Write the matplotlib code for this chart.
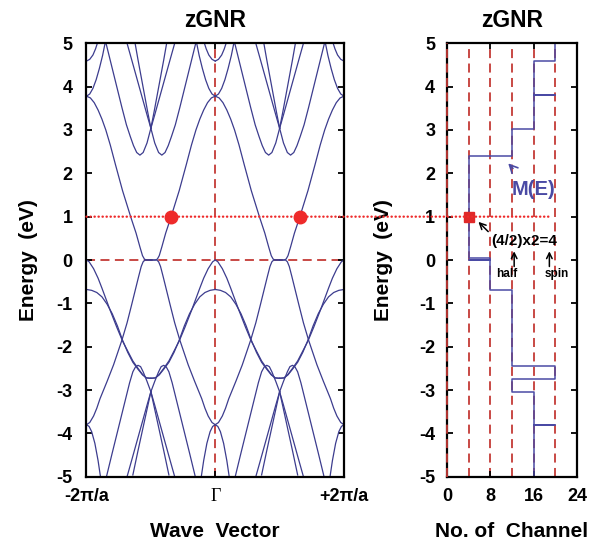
import numpy as np
import matplotlib
matplotlib.use('Agg')
import matplotlib.pyplot as plt
from matplotlib.patches import ConnectionPatch

plt.rcParams['font.family'] = ['Liberation Sans', 'DejaVu Sans']
plt.rcParams['font.weight'] = 'bold'
plt.rcParams['axes.unicode_minus'] = False

BAND = '#3c3c8e'
STEP = '#4a4aa4'
RED = '#c43a36'
DOT = '#ee2a2a'

############# data ##################
# E-k read off one half period, Gamma -> +pi/a (k in units of pi/a).
# the rest of the panel is this half mirrored about k=0 and k=1
c1_k = [0, 0.06, 0.12, 0.18, 0.24, 0.3, 0.37, 0.45, 0.56, 0.69, 0.77, 0.83, 0.87, 0.9, 0.93, 1.0]
c1_e = [3.78, 3.74, 3.63, 3.46, 3.25, 3.0, 2.65, 2.2, 1.6, 0.98, 0.62, 0.3, 0.1, 0.02, 0.0, 0.0]

c2_k = [0, 0.05, 0.1, 0.15, 0.2, 0.25, 0.295, 0.34, 0.4, 0.47, 0.55, 0.62, 0.68, 0.73, 0.78, 0.83, 0.88, 0.94, 1.0]
c2_e = [3.78, 3.83, 3.96, 4.16, 4.42, 4.72, 5.05, 4.78, 4.42, 4.0, 3.52, 3.12, 2.85, 2.64, 2.48, 2.42, 2.48, 2.7, 3.04]

c3_k = [0, 0.05, 0.1, 0.14, 0.175]
c3_e = [4.59, 4.63, 4.73, 4.87, 5.03]

q1_k = [1.0, 0.95, 0.9, 0.85, 0.8, 0.755]
q1_e = [3.04, 3.42, 3.82, 4.22, 4.62, 5.0]

q2_k = [1.0, 0.94, 0.88, 0.82, 0.76, 0.7, 0.63]
q2_e = [3.04, 3.35, 3.67, 3.99, 4.31, 4.63, 5.0]

n1_k = [0, 0.04, 0.11, 0.18, 0.24, 0.31, 0.37, 0.47, 0.56, 0.64, 0.72, 0.8, 0.87, 0.93, 1.0]
n1_e = [0.0, -0.04, -0.2, -0.42, -0.65, -0.93, -1.17, -1.55, -1.87, -2.1, -2.33, -2.5, -2.64, -2.72, -2.73]

n2_k = [0, 0.08, 0.16, 0.24, 0.32, 0.4, 0.48, 0.56, 0.64, 0.72, 0.8, 0.87, 0.93, 1.0]
n2_e = [-0.68, -0.7, -0.75, -0.85, -1.02, -1.24, -1.52, -1.85, -2.13, -2.36, -2.52, -2.65, -2.72, -2.73]

n3_k = [0, 0.05, 0.11, 0.16, 0.21, 0.32, 0.42, 0.55, 0.63, 0.7, 0.76, 0.81, 0.85, 0.88, 0.91, 1.0]
n3_e = [-3.8, -3.75, -3.6, -3.42, -3.2, -2.8, -2.42, -1.85, -1.45, -1.04, -0.68, -0.38, -0.15, -0.04, 0.0, 0.0]

n4_k = [0, 0.04, 0.08, 0.13, 0.18, 0.22]
n4_e = [-3.8, -3.84, -3.96, -4.23, -4.63, -5.03]

b1_k = [0.31, 0.4, 0.5, 0.6, 0.67, 0.72, 0.76, 0.8, 0.84, 0.88, 0.94, 1.0]
b1_e = [-5.0, -4.45, -3.85, -3.25, -2.83, -2.58, -2.47, -2.43, -2.46, -2.58, -2.8, -3.04]

r1_k = [1.0, 0.95, 0.9, 0.85, 0.8, 0.76, 0.72]
r1_e = [-3.04, -3.38, -3.72, -4.06, -4.4, -4.68, -4.96]

r2_k = [1.0, 0.94, 0.88, 0.82, 0.76, 0.7, 0.63]
r2_e = [-3.04, -3.35, -3.67, -3.99, -4.31, -4.63, -5.0]

bands = [(c1_k, c1_e), (c2_k, c2_e), (c3_k, c3_e), (q1_k, q1_e), (q2_k, q2_e),
         (n1_k, n1_e), (n2_k, n2_e), (n3_k, n3_e), (n4_k, n4_e),
         (b1_k, b1_e), (r1_k, r1_e), (r2_k, r2_e)]

# M(E): energy intervals and number of channels in each
mode_edges = [-5, -3.8, -3.8, -3.05, -2.75, -2.45, -0.7, 0, 0, 0.05, 2.4, 3.02, 3.8, 3.8, 4.6, 5]
mode_counts = [16, 20, 16, 12, 20, 12, 8, 4, 8, 4, 12, 16, 20, 16, 20]

fermi_e = 1.0
dot_k = [-0.69, 1.31]
fermi_m = 4
channel_grid = [0, 4, 8, 12, 16, 20]

############# plotting ##################
fig = plt.figure(figsize=(5.98, 5.49), dpi=100)
ax1 = fig.add_axes([86.5 / 598, 72.3 / 549, 257.5 / 598, 433.4 / 549])
ax2 = fig.add_axes([447 / 598, 72.3 / 549, 130 / 598, 433.4 / 549])

# left: E-k
ax1.axvline(0, color=RED, lw=1.3, ls=(0, (5, 3)), zorder=1)
ax1.axhline(0, color=RED, lw=1.3, ls=(0, (5, 3)), zorder=1)
for k, e in bands:
    k = np.asarray(k)
    for kk in (k, -k, 2 - k, k - 2):
        ax1.plot(kk, e, color=BAND, lw=0.9, zorder=2)
ax1.plot(dot_k, [fermi_e] * len(dot_k), 'o', color=DOT, ms=9, zorder=4)

ax1.set_xlim(-2, 2)
ax1.set_ylim(-5, 5)
ax1.set_xticks([-2, 0, 2])
ax1.set_xticklabels(['-2π/a', 'Γ', '+2π/a'])
ax1.get_xticklabels()[1].set_fontfamily(['Liberation Serif', 'DejaVu Serif'])
ax1.get_xticklabels()[1].set_fontweight('normal')
ax1.get_xticklabels()[1].set_fontsize(15)
ax1.set_yticks(range(-5, 6))
ax1.set_yticklabels([str(v) for v in range(-5, 6)])
ax1.set_xlabel('Wave  Vector', fontsize=15, fontweight='bold')
ax1.set_ylabel('Energy  (eV)', fontsize=15, fontweight='bold')
ax1.xaxis.set_label_coords(0.5, -0.105)
ax1.yaxis.set_label_coords(-0.19, 0.5)
ax1.set_title('zGNR', fontsize=16.5, fontweight='bold', pad=11.5)

# right: number of channels
for m in channel_grid:
    ax2.axvline(m, color=RED, lw=1.3, ls=(0, (5, 3)), zorder=3 if m == 0 else 1, clip_on=False)
ms = np.repeat(mode_counts, 2)
es = np.column_stack([mode_edges[:-1], mode_edges[1:]]).ravel()
ax2.plot(ms, es, color=STEP, lw=1.1, zorder=2)
ax2.plot([fermi_m], [fermi_e], 's', color='#e02828', ms=6.5, zorder=4)

ax2.set_xlim(0, 24)
ax2.set_ylim(-5, 5)
ax2.set_xticks([0, 8, 16, 24])
ax2.set_yticks(range(-5, 6))
ax2.set_yticklabels([str(v) for v in range(-5, 6)])
ax2.set_xlabel('No. of  Channel', fontsize=15, fontweight='bold')
ax2.set_ylabel('Energy  (eV)', fontsize=15, fontweight='bold')
ax2.xaxis.set_label_coords(0.5, -0.105)
ax2.yaxis.set_label_coords(-0.415, 0.5)
ax2.set_title('zGNR', fontsize=16.5, fontweight='bold', pad=11.5)

for ax, ypad in ((ax1, 10), (ax2, 8.5)):
    ax.tick_params(axis='both', direction='in', length=4, width=1.3,
                   top=True, right=True, labelsize=13)
    ax.tick_params(axis='y', pad=ypad)
    ax.tick_params(axis='x', pad=8)
    for s in ax.spines.values():
        s.set_linewidth(1.6)

# dotted line at E = 1 running across both panels
con = ConnectionPatch(xyA=(-2, fermi_e), coordsA=ax1.transData,
                      xyB=(19, fermi_e), coordsB=ax2.transData,
                      color=DOT, lw=1.7, ls=(0, (0.1, 1.6)), capstyle='round', zorder=3)
fig.add_artist(con)

# annotations
ax2.annotate('M(E)', xy=(11.3, 2.23), xytext=(15.9, 1.62), color=STEP,
             fontsize=14.5, fontweight='bold', ha='center', va='center',
             arrowprops=dict(arrowstyle='->', color=STEP, lw=1.2, shrinkA=9, shrinkB=0),
             annotation_clip=False)
ax2.annotate('(4/2)x2=4', xy=(5.8, 0.88), xytext=(14.2, 0.43), color='k',
             fontsize=11, fontweight='bold', ha='center', va='center',
             arrowprops=dict(arrowstyle='->', color='k', lw=1.1, shrinkA=0, shrinkB=0,
                             relpos=(0.0, 1.0)),
             annotation_clip=False)
ax2.annotate('', xy=(12.4, 0.2), xytext=(12.4, -0.15),
             arrowprops=dict(arrowstyle='->', color='k', lw=1.1, shrinkA=0, shrinkB=0))
ax2.annotate('', xy=(18.9, 0.2), xytext=(18.9, -0.15),
             arrowprops=dict(arrowstyle='->', color='k', lw=1.1, shrinkA=0, shrinkB=0))
ax2.text(11.1, -0.33, 'half', fontsize=8.5, fontweight='bold', ha='center', va='center')
ax2.text(20.2, -0.33, 'spin', fontsize=8.5, fontweight='bold', ha='center', va='center',
         clip_on=False)

fig.savefig('out.png', dpi=100)
